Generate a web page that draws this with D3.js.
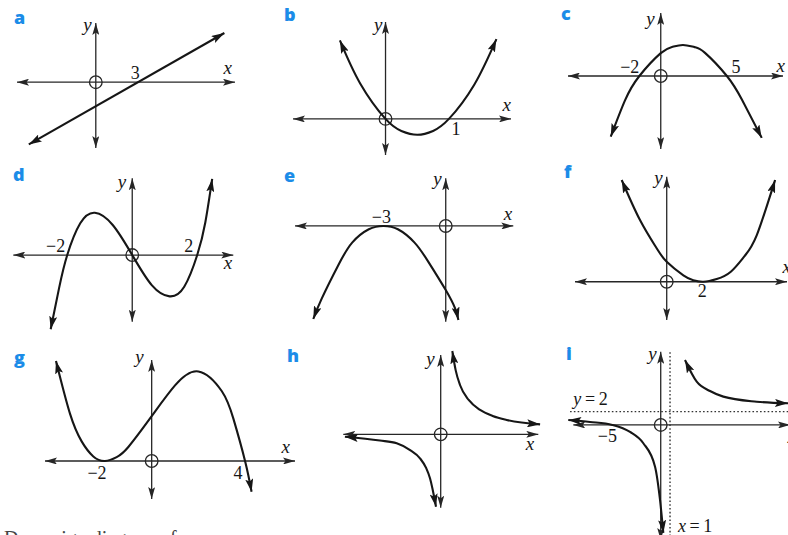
<!DOCTYPE html>
<html><head><meta charset="utf-8">
<script src="https://cdn.jsdelivr.net/npm/d3@7"></script>
<style>html,body{margin:0;padding:0;background:#fff;overflow:hidden}</style>
</head><body><svg id="c" width="788" height="535"></svg>
<script>
// ---------- DATA ----------
const panels = ["a","b","c","d","e","f","g","h","i"];
const xDomains = [[-6.0,10.6],[-1.46,1.98],[-7.42,9.78],[-3.66,3.11],[-7.25,3.25],[-5.01,6.57],[-4.57,6.14],[-4.87,4.88],[-9.4,13.9]];
const yDomains = [[-5.0,4.5],[-0.57,1.53],[-5.84,5.04],[-2.05,2.36],[-4.6,2.29],[-2.09,5.74],[-1.63,4.33],[-3.67,3.97],[-17.3,11.0]];

const curveA = [[[-5.1,-4.73],[9.79,3.74]]];
const curveB = [[[-0.72,1.24],[-0.4,0.56],[0,0],[0.25,-0.19],[0.5,-0.25],[0.75,-0.19],[1,0],[1.4,0.54],[1.75,1.26]]];
const curveC = [[[-4.0,-4.85],[-2.86,-1.95],[-1.71,0],[0,1.83],[0.9,2.32],[1.78,2.48],[2.7,2.31],[3.54,1.85],[5.29,0],[6.5,-1.9],[8.08,-4.95]]];
const curveD = [[[-2.51,-2.28],[-2.25,-1.01],[-2,0],[-1.6,0.975],[-1.15,1.3],[-0.6,0.924],[0,0],[0.6,-0.924],[1.15,-1.27],[1.6,-0.975],[2,0],[2.25,1.01],[2.46,2.34]]];
const curveE = [[[-6.37,-4.47],[-5.96,-3.48],[-5.15,-1.85],[-4.5,-0.8],[-3.7,-0.16],[-3,0],[-2.3,-0.16],[-1.5,-0.8],[-0.85,-1.7],[0,-3.08],[0.45,-3.96],[0.61,-4.52]]];
const curveF = [[[-2.46,5.56],[-1.46,3.37],[-0.55,1.83],[0,1.09],[0.91,0.35],[1.45,0.08],[2,0],[2.73,0.15],[3.5,0.55],[4.25,1.4],[4.92,2.55],[5.92,5.56]]];
const curveG = [[[-4.1,4.29],[-3.5,2.03],[-3,0.84],[-2.5,0.195],[-2,0],[-1.5,0.165],[-1,0.6],[0,1.92],[1,3.24],[2,3.84],[3,3.0],[3.5,1.815],[4,0],[4.28,-1.32]]];
const curveH = [
  [[0.58,4.17],[0.75,3.2],[0.965,2.47],[1.4,1.72],[1.97,1.22],[2.6,0.92],[3.3,0.72],[4.97,0.5]],
  [[-4.79,-0.12],[-3.04,-0.31],[-2.2,-0.45],[-1.53,-0.79],[-1.035,-1.2],[-0.73,-1.68],[-0.535,-2.2],[-0.235,-3.62]]
];
const curveI = [
  [[2.61,9.77],[3.87,6.51],[5.3,5.1],[6.73,4.26],[10.32,3.5],[13.69,3.26]],
  [[-9.94,0.75],[-7.6,0.45],[-5.2,0],[-3.3,-1.05],[-1.87,-2.75],[-0.61,-6.27],[-0.075,-11.28],[0.28,-16.24]]
];
const curves = [curveA,curveB,curveC,curveD,curveE,curveF,curveG,curveH,curveI];

// asymptotes of panel i
const vAsymptotesI = [1];
const hAsymptotesI = [2];

// value labels: panel, text, data x, data y
const valueLabels = [
  ["a","3",3,0],["b","1",1,0],["c","\u22122",-1.71,0],["c","5",5.29,0],
  ["d","\u22122",-2,0],["d","2",2,0],["e","\u22123",-3,0],["f","2",2,0],
  ["g","\u22122",-2,0],["g","4",4,0],["i","\u22125",-5.2,0],
  ["i","y\u2009=\u20092",-9.4,2],["i","x\u2009=\u20091",1,-16.1]
];
const caption = "Draw sign diagrams for:";

// ---------- LAYOUT (positions / styles) ----------
const boxes = [
  {x:[17,235], y:[148,23]},
  {x:[293,511], y:[155,22]},
  {x:[568,783], y:[149,13]},
  {x:[13.3,233.3], y:[321.7,178.3]},
  {x:[295,513.3], y:[321.7,178.3]},
  {x:[575,787], y:[320,176.7]},
  {x:[45,295], y:[499,360]},
  {x:[343.3,538.3], y:[507.7,355]},
  {x:[573.3,790], y:[540,351.8]}
];
const curveKinds = ["natural","natural","natural","natural","natural","natural","natural","monotone","monotone"];
const letterPos = [[14,24],[284,21],[561,20],[13,181],[284,182],[564,178],[14,364],[287,362],[566,360]];
const yLabelOff = [[-4,8],[-3,9],[-6,12],[-6,10],[-4,7],[-4,7],[-8,3],[-6,10],[-4,8]];
const xLabelOff = [[-3,-8],[0,-8],[2,-4],[-1,14],[-1,-6],[4,-9],[-5,-8],[-4,16],[6,18]];
const valueLabelOff = [
  ["middle",0,-3],["middle",7,16],["end",0,-3],["middle",9,-3],
  ["end",-2,-3],["end",-4,-3],["middle",-2,-3],["middle",-1,15],
  ["middle",-8,18],["middle",-7,18],["middle",-5,17],
  ["start",0,-7],["start",8,0]
];
const serif = "'Liberation Serif','Times New Roman',serif";
const ink = "#161616", axisInk = "#262626", blue = "#1b8ce8";

// ---------- DRAW ----------
const svg = d3.select("#c");
svg.append("rect").attr("width",788).attr("height",535).attr("fill","#fff");
const defs = svg.append("defs");
function marker(id,w,h,notch,color){
  defs.append("marker").attr("id",id).attr("viewBox",`0 0 ${w} ${h}`)
    .attr("refX",w).attr("refY",h/2).attr("markerWidth",w).attr("markerHeight",h)
    .attr("markerUnits","userSpaceOnUse").attr("orient","auto-start-reverse")
    .append("path").attr("d",`M0,0L${w},${h/2}L0,${h}L${notch},${h/2}Z`).attr("fill",color);
}
marker("ax",12,7,2.5,axisInk);
marker("cv",13,8,2.5,ink);

panels.forEach((p,i)=>{
  const xd = xDomains[i], yd = yDomains[i], b = boxes[i];
  const xs = d3.scaleLinear().domain(xd).range(b.x);
  const ys = d3.scaleLinear().domain(yd).range(b.y);
  const g = svg.append("g").attr("class","panel-"+p);

  // asymptotes
  if(p==="i"){
    vAsymptotesI.forEach(v=>g.append("line").attr("x1",xs(v)).attr("x2",xs(v))
      .attr("y1",ys(yd[0])).attr("y2",ys(11.2))
      .attr("stroke","#333").attr("stroke-width",1.4).attr("stroke-dasharray","1.6,2.2"));
    hAsymptotesI.forEach(v=>g.append("line").attr("x1",xs(-9.75)).attr("x2",xs(xd[1]))
      .attr("y1",ys(v)).attr("y2",ys(v))
      .attr("stroke","#333").attr("stroke-width",1.4).attr("stroke-dasharray","1.6,2.2"));
  }

  // axes
  g.append("line").attr("x1",xs(xd[0])).attr("x2",xs(xd[1])).attr("y1",ys(0)).attr("y2",ys(0))
    .attr("stroke",axisInk).attr("stroke-width",1.3)
    .attr("marker-start","url(#ax)").attr("marker-end","url(#ax)");
  g.append("line").attr("x1",xs(0)).attr("x2",xs(0)).attr("y1",ys(yd[0])).attr("y2",ys(yd[1]))
    .attr("stroke",axisInk).attr("stroke-width",1.3)
    .attr("marker-start","url(#ax)").attr("marker-end","url(#ax)");
  g.append("circle").attr("cx",xs(0)).attr("cy",ys(0)).attr("r",6.3)
    .attr("fill","none").attr("stroke",axisInk).attr("stroke-width",1.3);

  // curves
  const interp = curveKinds[i]==="monotone" ? d3.curveMonotoneX : d3.curveNatural;
  const line = d3.line().x(d=>xs(d[0])).y(d=>ys(d[1])).curve(interp);
  curves[i].forEach(branch=>{
    g.append("path").attr("d",line(branch)).attr("fill","none")
      .attr("stroke",ink).attr("stroke-width",2.1).attr("stroke-linecap","butt")
      .attr("marker-start","url(#cv)").attr("marker-end","url(#cv)");
  });

  // axis letters
  g.append("text").attr("x",xs(0)+yLabelOff[i][0]).attr("y",ys(yd[1])+yLabelOff[i][1])
    .attr("text-anchor","end").attr("font-family",serif).attr("font-style","italic")
    .attr("font-size",19).attr("fill",ink).text("y");
  g.append("text").attr("x",xs(xd[1])+xLabelOff[i][0]).attr("y",ys(0)+xLabelOff[i][1])
    .attr("text-anchor","end").attr("font-family",serif).attr("font-style","italic")
    .attr("font-size",19).attr("fill",ink).text("x");

  // value labels
  valueLabels.forEach((v,k)=>{
    if(v[0]!==p) return;
    const off = valueLabelOff[k];
    const t = g.append("text").attr("x",xs(v[2])+off[1]).attr("y",ys(v[3])+off[2])
      .attr("text-anchor",off[0]).attr("font-family",serif).attr("font-size",18).attr("fill",ink);
    const s = v[1];
    if(s[0]==="x"||s[0]==="y"){
      t.append("tspan").attr("font-style","italic").text(s[0]);
      t.append("tspan").text(s.slice(1));
    } else t.text(s);
  });

  // panel letter
  svg.append("text").attr("x",letterPos[i][0]).attr("y",letterPos[i][1])
    .attr("font-family","'Open Sans','Noto Sans',sans-serif").attr("font-weight",800)
    .attr("font-size",18).attr("fill",blue).text(p);
});

svg.append("text").attr("x",4).attr("y",545).attr("font-family",serif)
  .attr("font-size",20).attr("fill","#444").text(caption);
</script></body></html>
